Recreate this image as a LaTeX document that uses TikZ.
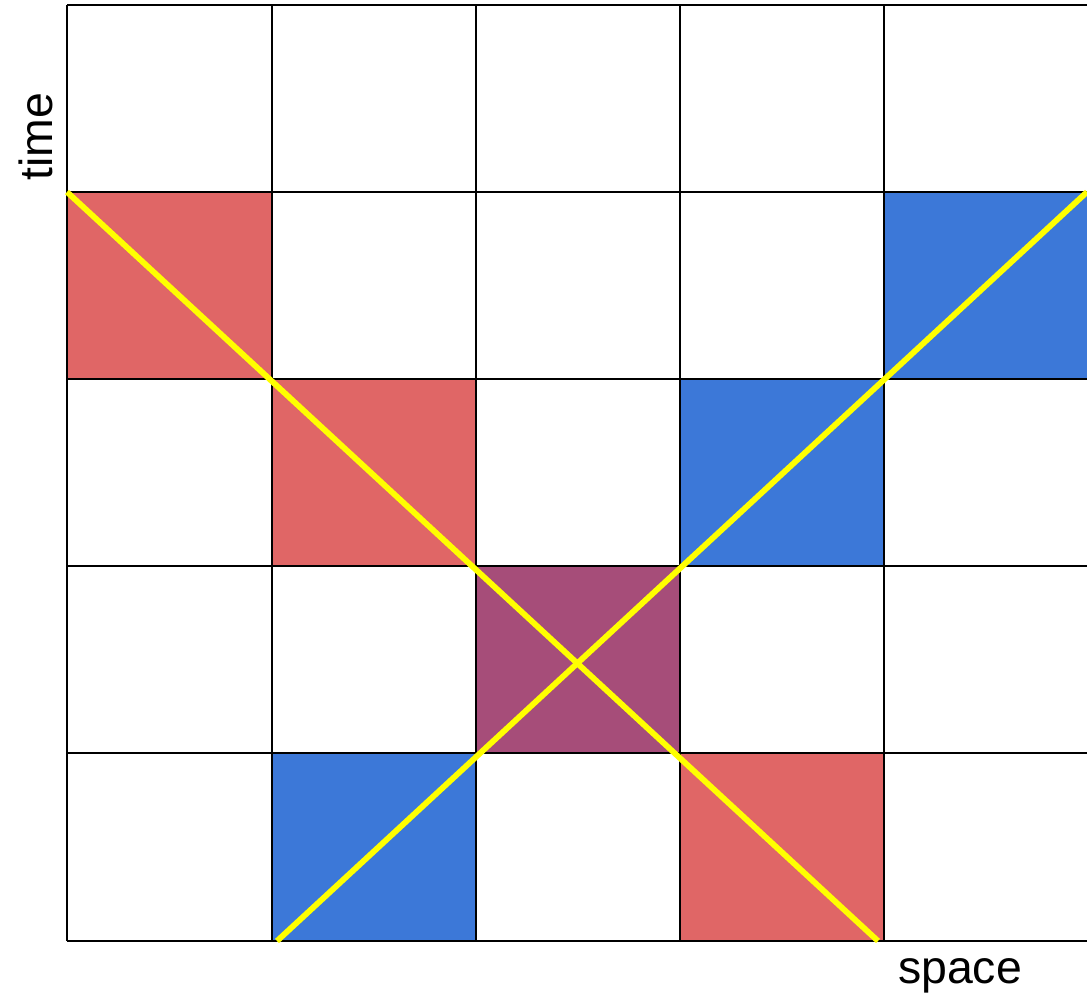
\documentclass[tikz,border=0pt]{standalone}
\usepackage{fontspec}
\setmainfont{Liberation Sans}
\definecolor{cellred}{HTML}{E06666}
\definecolor{cellblue}{HTML}{3C78D8}
\definecolor{cellpurple}{HTML}{A64D79}
\definecolor{ray}{HTML}{FFFF00}
\begin{document}
\begin{tikzpicture}[x=0.01cm,y=-0.01cm,
  gridline/.style={draw=black,line width=0.6pt},
  rayline/.style={draw=ray,line width=1.65pt},
  axislabel/.style={font=\fontsize{13.2}{15}\selectfont,inner sep=0pt,anchor=base}]
\useasboundingbox (0,0) rectangle (1087,996);
\clip (0,0) rectangle (1087,996);
% coloured cells
\fill[cellred]    (67,192)  rectangle (272,379);
\fill[cellred]    (272,379) rectangle (476,566);
\fill[cellred]    (680,753) rectangle (884,941);
\fill[cellblue]   (884,192) rectangle (1100,379);
\fill[cellblue]   (680,379) rectangle (884,566);
\fill[cellblue]   (272,753) rectangle (476,941);
\fill[cellpurple] (476,566) rectangle (680,753);
% grid
\foreach \y in {5,192,379,566,753,941} \draw[gridline] (67,\y) -- (1100,\y);
\foreach \x in {67,272,476,680,884} \draw[gridline] (\x,5) -- (\x,941);
% rays
\coordinate (a1) at (67,192);
\coordinate (a2) at (878,941);
\coordinate (b1) at (277,941);
\coordinate (b2) at (1087,192);
\draw[rayline] (a1) -- (a2);
\draw[rayline] (b1) -- (b2);
% labels
\node[axislabel,rotate=90] (time) at (52,137) {time};
\node[axislabel] (space) at (960,983) {space};
\end{tikzpicture}
\end{document}
